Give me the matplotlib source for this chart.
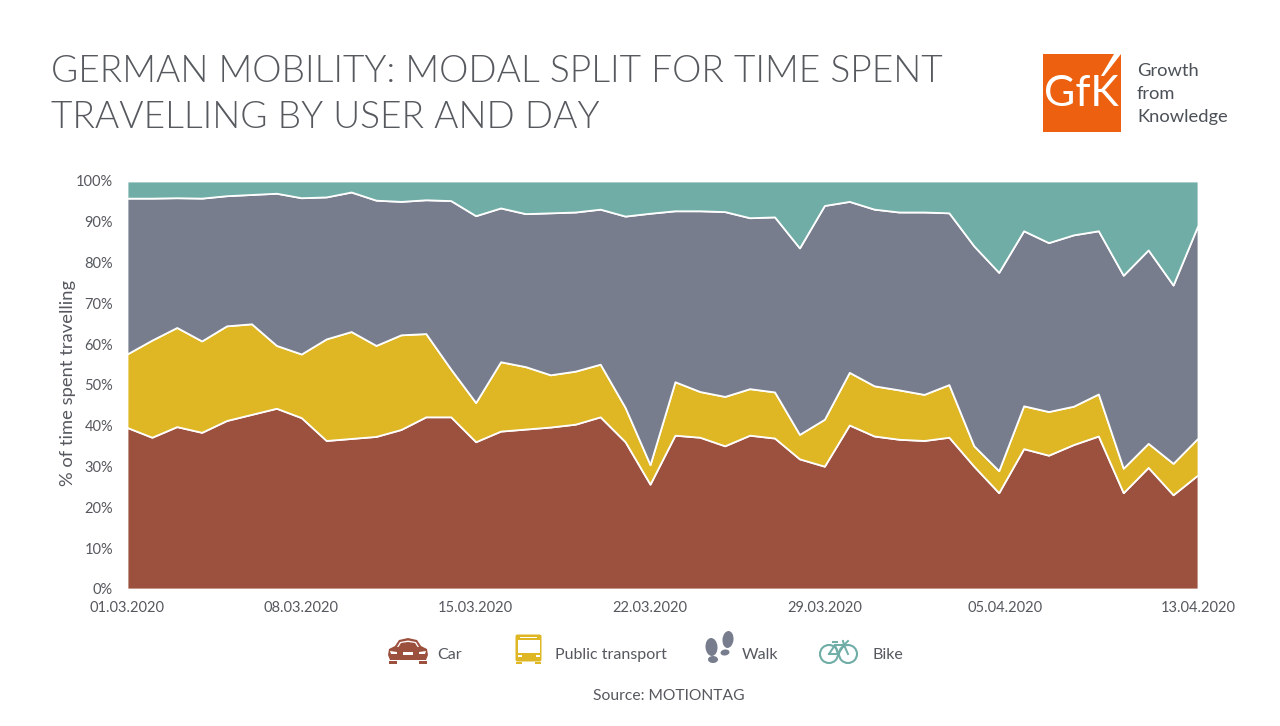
import numpy as np
import matplotlib.pyplot as plt
from matplotlib.patches import Rectangle, Polygon, Circle, Ellipse, FancyBboxPatch

plt.rcParams['font.family'] = ['Lato', 'DejaVu Sans']

# shares per day (01.03.2020 to 13.04.2020)
car = [39.6, 37.2, 39.8, 38.4, 41.3, 42.8, 44.3, 42.0, 36.4, 36.9, 37.4, 39.1, 42.2, 42.2, 36.1,
       38.7, 39.2, 39.7, 40.4, 42.2, 36.1, 25.7, 37.7, 37.2, 35.1, 37.7, 37.0, 31.9, 30.1, 40.2,
       37.5, 36.7, 36.4, 37.2, 30.1, 23.6, 34.4, 32.8, 35.4, 37.5, 23.6, 29.8, 23.1, 28.0]
public_transport = [18.0, 23.8, 24.3, 22.4, 23.2, 22.2, 15.4, 15.6, 24.9, 26.2, 22.3, 23.2, 20.4, 11.7, 9.6,
                    17.0, 15.3, 12.8, 13.0, 12.9, 8.4, 4.8, 13.1, 11.2, 12.1, 11.4, 11.3, 6.0, 11.5, 12.9,
                    12.3, 12.1, 11.3, 12.9, 5.0, 5.4, 10.5, 10.7, 9.4, 10.3, 6.0, 5.9, 7.7, 9.0]
walk = [38.2, 34.8, 31.8, 35.0, 31.9, 31.7, 37.3, 38.3, 34.8, 34.2, 35.6, 32.7, 32.8, 41.3, 45.8,
        37.7, 37.5, 39.7, 39.0, 38.0, 46.9, 61.6, 41.9, 44.3, 45.3, 41.9, 42.9, 45.7, 52.4, 41.9,
        43.3, 43.6, 44.7, 42.1, 49.0, 48.6, 42.9, 41.4, 42.0, 40.0, 47.3, 47.4, 43.7, 52.2]
bike = [4.2, 4.2, 4.1, 4.2, 3.6, 3.3, 3.0, 4.1, 3.9, 2.7, 4.7, 5.0, 4.6, 4.8, 8.5,
        6.6, 8.0, 7.8, 7.6, 6.9, 8.6, 7.9, 7.3, 7.3, 7.5, 9.0, 8.8, 16.4, 6.0, 5.0,
        6.9, 7.6, 7.6, 7.8, 15.9, 22.4, 12.2, 15.1, 13.2, 12.2, 23.1, 16.9, 25.5, 10.8]

tick_days = [0, 7, 14, 21, 28, 35.25, 43]
tick_labels = ["01.03.2020", "08.03.2020", "15.03.2020", "22.03.2020", "29.03.2020", "05.04.2020", "13.04.2020"]

CAR = "#9C513F"
BUS = "#DFB624"
WALK = "#777D8D"
BIKE = "#6FADA6"
TEXT = "#55585E"

fig = plt.figure(figsize=(12.8, 7.26), dpi=100)
ax = fig.add_axes([127 / 1280, 1 - 589 / 726, 1071 / 1280, 408 / 726])

days = np.arange(len(car))
ax.stackplot(days, car, public_transport, walk, bike, colors=[CAR, BUS, WALK, BIKE],
             edgecolor="white", linewidth=1.3)
ax.set_xlim(0, 43)
ax.set_ylim(0, 100)
ax.set_xticks(tick_days, tick_labels)
ax.set_yticks(range(0, 101, 10), [f"{v}%" for v in range(0, 101, 10)])
ax.tick_params(length=0, labelsize=10.5, labelcolor=TEXT)
ax.tick_params(axis="x", pad=9)
ax.tick_params(axis="y", pad=10)
ax.set_ylabel("% of time spent travelling", fontsize=13.2, color=TEXT, labelpad=0, y=0.505)
for s in ax.spines.values():
    s.set_visible(False)

# overlay in pixel coords for title, legend icons and logo
ov = fig.add_axes([0, 0, 1, 1], facecolor="none")
ov.set_xlim(0, 1280)
ov.set_ylim(726, 0)
ov.axis("off")

ov.text(51, 72, "GERMAN MOBILITY: MODAL SPLIT FOR TIME SPENT", fontsize=26.75, fontweight=300,
        color="#56595E", va="center")
ov.text(51, 118, "TRAVELLING BY USER AND DAY", fontsize=26.75, fontweight=300,
        color="#56595E", va="center")

# logo
ov.add_patch(Rectangle((1043, 54), 78, 78, color="#EC600F", lw=0))
ov.add_patch(Polygon([[1121, 54], [1114, 54], [1101, 76], [1104, 76]], color="white", lw=0))
ov.text(1081.5, 94, "GfK", fontsize=31, color="white", ha="center", va="center")
for y, word in zip([71, 94, 117], ["Growth", "from", "Knowledge"]):
    ov.text(1137, y, word, fontsize=13.2, color="#4B5157", va="center")

# car icon
ov.add_patch(Polygon([[388, 655], [389, 649], [395, 646], [399, 640], [408, 638], [417, 640],
                      [421, 646], [427, 649], [428, 655], [426, 660], [390, 660]], color=CAR, lw=0))
ov.add_patch(Polygon([[397, 647], [400, 642], [408, 640.5], [416, 642], [419, 647]], color="white", lw=0))
ov.add_patch(Polygon([[398.5, 647], [401, 643], [408, 642], [415, 643], [417.5, 647]], color=CAR, lw=0))
ov.add_patch(Rectangle((403, 652), 10, 2.5, color="white", lw=0))
ov.add_patch(Polygon([[390, 651], [397, 652], [397, 654], [391, 654]], color="white", lw=0))
ov.add_patch(Polygon([[426, 651], [419, 652], [419, 654], [425, 654]], color="white", lw=0))
ov.add_patch(Rectangle((389, 660.5), 8, 3.5, color=CAR, lw=0))
ov.add_patch(Rectangle((419, 660.5), 8, 3.5, color=CAR, lw=0))

# bus icon
ov.add_patch(FancyBboxPatch((516, 635), 25, 26, boxstyle="round,pad=0.5,rounding_size=2", color=BUS, lw=0))
ov.add_patch(Rectangle((520, 636.5), 17, 1.5, color="white", lw=0))
ov.add_patch(Rectangle((517.5, 640), 22, 13, color="white", lw=0))
ov.add_patch(Rectangle((517.5, 655), 4, 2, color="white", lw=0))
ov.add_patch(Rectangle((535.5, 655), 4, 2, color="white", lw=0))
ov.add_patch(Rectangle((516, 662), 6, 2, color=BUS, lw=0))
ov.add_patch(Rectangle((535, 662), 6, 2, color=BUS, lw=0))

# footprints
ov.add_patch(Ellipse((711.5, 647), 12, 18, angle=-4, color=WALK, lw=0))
ov.add_patch(Ellipse((713, 659.5), 10, 7, color=WALK, lw=0))
ov.add_patch(Ellipse((728, 639.5), 11, 17, angle=6, color=WALK, lw=0))
ov.add_patch(Ellipse((725, 652.5), 9, 6, angle=-8, color=WALK, lw=0))

# bike icon
for cx in (829, 848):
    ov.add_patch(Circle((cx, 654), 9, fill=False, ec=BIKE, lw=1.5))
ov.plot([829, 835, 844, 838, 829], [654, 645, 645, 654, 654], color=BIKE, lw=1.4)
ov.plot([835, 838, 844, 848], [645, 654, 645, 654], color=BIKE, lw=1.4)
ov.plot([833, 837], [642, 642], color=BIKE, lw=1.4)
ov.plot([843, 844, 848], [641, 645, 641], color=BIKE, lw=1.4)

for x, label in zip([437, 555, 742, 872], ["Car", "Public transport", "Walk", "Bike"]):
    ov.text(x, 655, label, fontsize=11.5, color=TEXT, va="center")
ov.text(669, 696, "Source: MOTIONTAG", fontsize=11.25, color=TEXT, ha="center", va="center")

fig.savefig("out.png", dpi=100)
